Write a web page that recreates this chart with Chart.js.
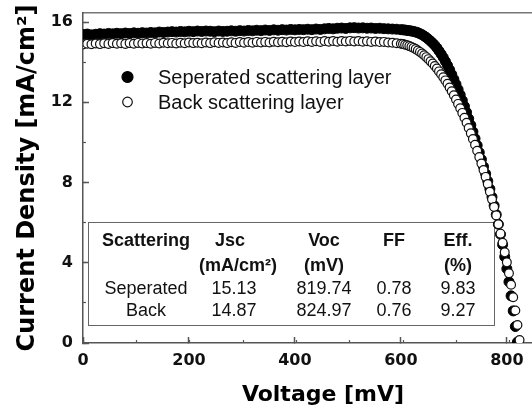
<!DOCTYPE html>
<html>
<head>
<meta charset="utf-8">
<script src="https://cdn.jsdelivr.net/npm/chart.js@4.4.1/dist/chart.umd.min.js"></script>
<style>
html,body{margin:0;padding:0;background:#fff;overflow:hidden;}
#wrap{width:563px;height:409px;position:relative;}
</style>
</head>
<body>
<div id="wrap"><canvas id="c"></canvas></div>
<script>
// ---------------- data ----------------
const voltage = [
  0,8,16,24,32,40,48,56,64,72,
  80,88,96,104,112,120,128,136,144,152,
  160,168,176,184,192,200,208,216,224,232,
  240,248,256,264,272,280,288,296,304,312,
  320,328,336,344,352,360,368,376,384,392,
  400,408,416,424,432,440,448,456,464,472,
  480,488,496,504,512,520,528,536,544,552,
  560,568,576,584,592,600,
  604,608,612,616,620,624,628,632,636,640,
  644,648,652,656,660,664,668,672,676,680,
  684,688,692,696,700,704,708,712,716,720,
  724,728,732,736,740,744,748,752,756,760,
  764,768,772,776,780,784,788,792,796,800,
  804,808,812,816,820,824
];
const jSeperated = [
  15.38,15.40,15.36,15.39,15.42,15.40,15.43,15.41,15.44,15.42,
  15.45,15.43,15.46,15.44,15.47,15.45,15.48,15.46,15.50,15.48,
  15.50,15.52,15.50,15.53,15.51,15.54,15.52,15.55,15.53,15.55,
  15.54,15.52,15.55,15.53,15.54,15.56,15.54,15.57,15.55,15.58,
  15.56,15.59,15.57,15.60,15.58,15.61,15.59,15.62,15.60,15.63,
  15.61,15.63,15.62,15.64,15.62,15.65,15.63,15.66,15.68,15.66,
  15.69,15.70,15.68,15.71,15.72,15.70,15.71,15.69,15.70,15.68,
  15.69,15.67,15.66,15.65,15.64,15.62,
  15.61,15.60,15.58,15.57,15.55,15.53,15.50,15.47,15.42,15.37,
  15.30,15.23,15.14,15.05,14.95,14.84,14.71,14.56,14.40,14.23,
  14.04,13.84,13.62,13.39,13.15,12.90,12.64,12.37,12.09,11.80,
  11.50,11.18,10.86,10.53,10.19,9.85,9.50,9.15,8.79,8.43,
  8.07,7.68,7.28,6.85,6.40,5.92,5.42,4.90,4.30,3.70,
  3.05,2.35,1.60,0.82,0.05,null
];
const jBack = [
  14.88,14.92,14.89,14.93,14.90,14.94,14.91,14.95,14.92,14.94,
  14.91,14.95,14.92,14.96,14.93,14.95,14.92,14.96,14.93,14.97,
  14.94,14.96,14.93,14.97,14.94,14.98,14.95,14.97,14.94,14.98,
  14.95,14.99,14.96,14.98,14.95,14.99,14.96,15.00,14.97,15.00,
  14.97,15.01,14.98,15.01,14.98,15.02,14.99,15.02,14.99,15.03,
  15.00,15.03,15.00,15.04,15.01,15.04,15.01,15.05,15.02,15.05,
  15.02,15.05,15.03,15.06,15.03,15.05,15.02,15.04,15.01,15.03,
  15.00,15.01,14.98,14.97,14.94,14.92,
  14.90,14.87,14.84,14.80,14.76,14.71,14.65,14.58,14.51,14.43,
  14.34,14.25,14.15,14.04,13.93,13.81,13.68,13.54,13.40,13.25,
  13.09,12.92,12.74,12.55,12.35,12.14,11.92,11.70,11.47,11.23,
  10.98,10.72,10.45,10.17,9.88,9.58,9.27,8.95,8.62,8.28,
  7.92,7.54,7.16,6.78,6.36,5.92,5.45,5.00,4.52,4.02,
  3.48,2.90,2.28,1.62,0.90,0.15
];
const seriesLabels = ['Seperated scattering layer', 'Back scattering layer'];
const xTickValues = [0, 200, 400, 600, 800];
const yTickValues = [0, 4, 8, 12, 16];
const tableHead1 = ['Scattering', 'Jsc', 'Voc', 'FF', 'Eff.'];
const tableHead2 = ['', '(mA/cm\u00B2)', '(mV)', '', '(%)'];
const tableRows = [
  ['Seperated', '15.13', '819.74', '0.78', '9.83'],
  ['Back', '14.87', '824.97', '0.76', '9.27']
];
const xTitle = 'Voltage [mV]';
const yTitle = 'Current Density [mA/cm\u00B2]';

// ---------------- helpers ----------------
const toPoints = ys => voltage.map((v, i) => ({x: v, y: ys[i]})).filter(p => p.y !== null && p.y !== undefined);
const fitTo = (dim, val) => s => {
  s[dim] = val;
  s.paddingTop = 0; s.paddingBottom = 0; s.paddingLeft = 0; s.paddingRight = 0;
};
const AX = '#555';
const BOLD = 'DejaVu Sans';
const REG = '"Liberation Sans", Arial, sans-serif';

const annotations = {
  id: 'annotations',
  beforeDatasetsDraw(chart) {
    const ctx = chart.ctx;
    ctx.save();
    ctx.strokeStyle = '#666';
    ctx.lineWidth = 1;
    ctx.strokeRect(88.5, 222.5, 406, 103);
    ctx.fillStyle = '#111';
    ctx.textAlign = 'center';
    ctx.textBaseline = 'alphabetic';
    const colX = [146, 234, 324, 394, 458];
    const rowY = [246, 271, 294, 316];
    ctx.font = 'bold 18px ' + REG;
    tableHead1.forEach((t, i) => ctx.fillText(t, colX[i] - (i === 1 ? 4 : 0), rowY[0]));
    tableHead2.forEach((t, i) => { if (t) ctx.fillText(t, colX[i] + (i === 1 ? 4 : 0), rowY[1]); });
    ctx.font = '18px ' + REG;
    tableRows.forEach((row, r) => row.forEach((t, i) => ctx.fillText(t, colX[i], rowY[2 + r])));
    ctx.restore();
  },
  afterDatasetsDraw(chart) {
    const ctx = chart.ctx;
    ctx.save();
    const ds = chart.data.datasets;
    const rows = [{cy: 77, base: 84}, {cy: 102, base: 109}];
    ds.forEach((d, i) => {
      const r = rows[i];
      ctx.beginPath();
      ctx.arc(127.5, r.cy, i === 0 ? 5.5 : 4.8, 0, Math.PI * 2);
      ctx.fillStyle = d.pointBackgroundColor;
      ctx.fill();
      ctx.lineWidth = 1.2;
      ctx.strokeStyle = d.pointBorderColor;
      ctx.stroke();
      ctx.fillStyle = '#111';
      ctx.font = '20px ' + REG;
      ctx.textAlign = 'left';
      ctx.textBaseline = 'alphabetic';
      ctx.fillText(d.label, 158, r.base);
    });
    ctx.restore();
  }
};

new Chart(document.getElementById('c'), {
  type: 'scatter',
  data: {
    datasets: [
      {
        label: seriesLabels[0],
        data: toPoints(jSeperated),
        showLine: false,
        pointRadius: 5,
        pointBackgroundColor: '#000',
        pointBorderColor: '#000',
        pointBorderWidth: 1,
        order: 1,
        clip: 0
      },
      {
        label: seriesLabels[1],
        data: toPoints(jBack),
        showLine: false,
        pointRadius: 4.4,
        pointBackgroundColor: '#fff',
        pointBorderColor: '#111',
        pointBorderWidth: 1.2,
        order: 0,
        clip: 0
      }
    ]
  },
  options: {
    responsive: true,
    maintainAspectRatio: false,
    animation: false,
    devicePixelRatio: 1,
    layout: {autoPadding: false, padding: {left: 0, right: 0, top: 13, bottom: 0}},
    plugins: {legend: {display: false}, tooltip: {enabled: false}},
    scales: {
      x: {
        type: 'linear', position: 'bottom', min: 0, max: 906, weight: 1,
        afterFit: fitTo('height', 66),
        afterBuildTicks: s => { s.ticks = xTickValues.map(v => ({value: v})); },
        ticks: {padding: 14, color: '#111', font: {family: BOLD, weight: 'bold', size: 16}, maxRotation: 0, autoSkip: false, includeBounds: false},
        grid: {drawOnChartArea: false, tickLength: -6, tickColor: AX, tickWidth: 1.5},
        border: {display: true, color: AX, width: 1.5},
        title: {display: true, text: xTitle, color: '#000', font: {family: BOLD, weight: 'bold', size: 22}, padding: {top: 0, bottom: 1}}
      },
      xMinor: {
        type: 'linear', position: 'bottom', min: 0, max: 906, weight: 0,
        afterFit: fitTo('height', 0),
        ticks: {display: false, stepSize: 100, includeBounds: false},
        grid: {drawOnChartArea: false, tickLength: -3, tickColor: AX, tickWidth: 1.2},
        border: {display: false}
      },
      xTop: {
        type: 'linear', position: 'top', min: 0, max: 906,
        afterFit: fitTo('height', 0),
        ticks: {display: false},
        grid: {drawOnChartArea: false, drawTicks: false},
        border: {display: true, color: '#777', width: 1.5}
      },
      y: {
        type: 'linear', position: 'left', min: 0, max: 16.45, weight: 1,
        afterFit: fitTo('width', 83),
        afterBuildTicks: s => { s.ticks = yTickValues.map(v => ({value: v})); },
        ticks: {padding: 16, color: '#111', font: {family: BOLD, weight: 'bold', size: 16}, includeBounds: false},
        grid: {drawOnChartArea: false, tickLength: -6, tickColor: AX, tickWidth: 1.5},
        border: {display: true, color: AX, width: 1.5},
        title: {display: true, text: yTitle, color: '#000', font: {family: BOLD, weight: 'bold', size: 24}, padding: {top: 13, bottom: 0}}
      },
      yMinor: {
        type: 'linear', position: 'left', min: 0, max: 16.45, weight: 0,
        afterFit: fitTo('width', 0),
        ticks: {display: false, stepSize: 2, includeBounds: false},
        grid: {drawOnChartArea: false, tickLength: -3, tickColor: AX, tickWidth: 1.2},
        border: {display: false}
      }
    }
  },
  plugins: [annotations]
});
</script>
</body>
</html>
